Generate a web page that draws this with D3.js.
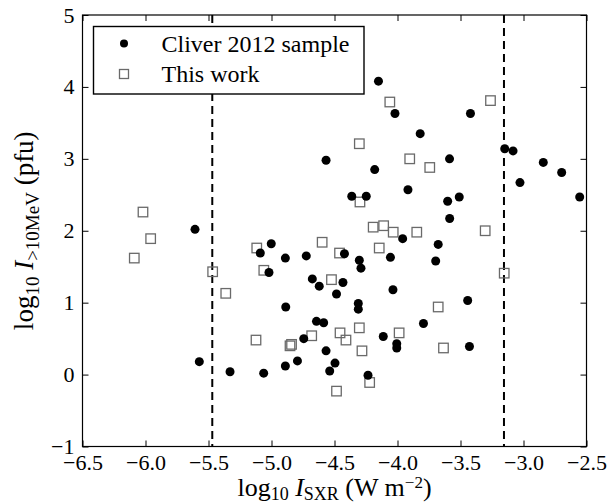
<!DOCTYPE html>
<html>
<head>
<meta charset="utf-8">
<script src="https://cdn.jsdelivr.net/npm/d3@7"></script>
<style>
  html, body { margin: 0; padding: 0; background: #fff; }
  svg { display: block; }
  text { font-family: "Liberation Serif", "DejaVu Serif", serif; fill: #000; }
</style>
</head>
<body>
<svg id="chart" width="609" height="503"></svg>
<script>
// ---- data ----
const cliverX = [-5.607, -5.573, -5.329, -5.062, -5.089, -5.002, -5.02, -4.89, -4.724, -4.887,
  -4.89, -4.794, -4.744, -4.676, -4.621, -4.643, -4.586, -4.567, -4.567, -4.538,
  -4.496, -4.484, -4.433, -4.421, -4.363, -4.248, -4.303, -4.29, -4.311, -4.311,
  -4.234, -4.181, -4.151, -4.113, -4.056, -4.036, -4.02, -4.006, -4.006, -3.959,
  -3.917, -3.82, -3.794, -3.697, -3.677, -3.602, -3.587, -3.586, -3.51, -3.443,
  -3.429, -3.421, -3.149, -3.083, -3.028, -2.843, -2.697, -2.554];
const cliverY = [2.02, 0.18, 0.04, 0.02, 1.69, 1.82, 1.42, 1.62, 1.65, 0.94,
  0.12, 0.19, 0.50, 1.33, 1.23, 0.74, 0.72, 2.98, 0.33, 0.05,
  0.16, 1.12, 1.28, 1.68, 2.48, 2.48, 1.59, 1.48, 0.99, 0.91,
  -0.01, 2.85, 4.08, 0.53, 1.63, 1.18, 3.63, 0.43, 0.37, 1.89,
  2.57, 3.35, 0.71, 1.58, 1.81, 2.41, 3.00, 2.17, 2.47, 1.03,
  0.39, 3.63, 3.14, 3.11, 2.67, 2.95, 2.81, 2.47];

const thisWorkX = [-6.089, -6.02, -5.959, -5.467, -5.363, -5.123, -5.117, -5.061, -4.853, -4.841,
  -4.681, -4.598, -4.524, -4.484, -4.46, -4.456, -4.409, -4.303, -4.303, -4.298,
  -4.282, -4.221, -4.193, -4.145, -4.11, -4.061, -4.034, -3.987, -3.903, -3.847,
  -3.744, -3.677, -3.635, -3.304, -3.262, -3.153];
const thisWorkY = [1.62, 2.26, 1.89, 1.43, 1.13, 0.48, 1.76, 1.45, 0.40, 0.42,
  0.54, 1.84, 1.32, -0.23, 1.69, 0.58, 0.48, 3.21, 0.65, 2.40,
  0.33, -0.11, 2.05, 1.76, 2.07, 3.79, 1.98, 0.58, 3.00, 1.98,
  2.88, 0.94, 0.37, 2.00, 3.81, 1.41];

const thresholds = [-5.47, -3.155];
const xTicks = [-6.5, -6.0, -5.5, -5.0, -4.5, -4.0, -3.5, -3.0, -2.5];
const yTicks = [-1, 0, 1, 2, 3, 4, 5];
const xDomain = [-6.5, -2.5];
const yDomain = [-1, 5];
const seriesNames = ["Cliver 2012 sample", "This work"];

// ---- layout ----
const W = 609, H = 503;
const m = { left: 82.5, top: 15, right: 22.5, bottom: 56.5 };
const iw = W - m.left - m.right, ih = H - m.top - m.bottom;

const svg = d3.select("#chart");
const g = svg.append("g").attr("transform", `translate(${m.left},${m.top})`);

const x = d3.scaleLinear().domain(xDomain).range([0, iw]);
const y = d3.scaleLinear().domain(yDomain).range([ih, 0]);

const minus = s => s.replace("-", "\u2212");
const fmtX = d => minus(d3.format(".1f")(d));
const fmtY = d => minus(d3.format("d")(d));
const tickLen = 6;

// axes
const axB = g.append("g").attr("transform", `translate(0,${ih})`)
  .call(d3.axisBottom(x).tickValues(xTicks).tickFormat(fmtX).tickSize(-tickLen).tickPadding(8));
const axT = g.append("g")
  .call(d3.axisTop(x).tickValues(xTicks).tickFormat("").tickSize(-tickLen));
const axL = g.append("g")
  .call(d3.axisLeft(y).tickValues(yTicks).tickFormat(fmtY).tickSize(-tickLen).tickPadding(8));
const axR = g.append("g").attr("transform", `translate(${iw},0)`)
  .call(d3.axisRight(y).tickValues(yTicks).tickFormat("").tickSize(-tickLen));
[axB, axT, axL, axR].forEach(a => {
  a.select(".domain").remove();
  a.selectAll(".tick line").attr("stroke", "#000").attr("stroke-width", 1);
  a.selectAll(".tick text").style("font-size", "22px").attr("fill", "#000");
});
axB.selectAll(".tick text").attr("dy", "0.72em");

// threshold dashed lines
g.selectAll("line.thr").data(thresholds).enter().append("line")
  .attr("class", "thr")
  .attr("x1", d => x(d)).attr("x2", d => x(d))
  .attr("y1", 0).attr("y2", ih)
  .attr("stroke", "#000").attr("stroke-width", 2)
  .attr("stroke-dasharray", "8,5");

// This work: open squares
const sq = 9.5;
g.selectAll("rect.tw").data(thisWorkX.map((v, i) => [v, thisWorkY[i]])).enter().append("rect")
  .attr("class", "tw")
  .attr("x", d => x(d[0]) - sq / 2).attr("y", d => y(d[1]) - sq / 2)
  .attr("width", sq).attr("height", sq)
  .attr("fill", "none").attr("stroke", "#6a6a6a").attr("stroke-width", 1.3);

// Cliver 2012: filled circles
g.selectAll("circle.cl").data(cliverX.map((v, i) => [v, cliverY[i]])).enter().append("circle")
  .attr("class", "cl")
  .attr("cx", d => x(d[0])).attr("cy", d => y(d[1]))
  .attr("r", 4.5).attr("fill", "#000");

// frame
g.append("rect").attr("x", 0).attr("y", 0).attr("width", iw).attr("height", ih)
  .attr("fill", "none").attr("stroke", "#000").attr("stroke-width", 1.2);

// legend
const lg = svg.append("g").attr("transform", "translate(93.5,26.5)");
lg.append("rect").attr("width", 270.5).attr("height", 67.5)
  .attr("fill", "#fff").attr("stroke", "#000").attr("stroke-width", 1.4);
lg.append("circle").attr("cx", 30.5).attr("cy", 17).attr("r", 4).attr("fill", "#000");
lg.append("rect").attr("x", 30.5 - 4.5).attr("y", 47.5 - 4.5).attr("width", 9).attr("height", 9)
  .attr("fill", "none").attr("stroke", "#6a6a6a").attr("stroke-width", 1.3);
lg.selectAll("text.lt").data(seriesNames).enter().append("text")
  .attr("class", "lt")
  .attr("x", 68).attr("y", (d, i) => 25 + i * 30)
  .style("font-size", "24px").text(d => d);

// x axis label
const xl = svg.append("text")
  .attr("x", m.left + iw / 2).attr("y", 496)
  .attr("text-anchor", "middle").style("font-size", "26px");
xl.append("tspan").text("log");
xl.append("tspan").attr("dy", 4).style("font-size", "18px").text("10");
xl.append("tspan").attr("dy", -4).text("\u00a0");
xl.append("tspan").style("font-style", "italic").text("I");
xl.append("tspan").attr("dy", 4).style("font-size", "18px").text("SXR");
xl.append("tspan").attr("dy", -4).text(" (W m");
xl.append("tspan").attr("dy", -8).style("font-size", "17px").text("\u22122");
xl.append("tspan").attr("dy", 8).text(")");

// y axis label
const yl = svg.append("text")
  .attr("transform", `translate(33,${m.top + ih / 2}) rotate(-90)`)
  .attr("text-anchor", "middle").style("font-size", "27px");
yl.append("tspan").text("log");
yl.append("tspan").attr("dy", 6).style("font-size", "19px").text("10");
yl.append("tspan").attr("dy", -6).text("\u00a0");
yl.append("tspan").style("font-style", "italic").text("I");
yl.append("tspan").attr("dy", 6).style("font-size", "19px").text(">10MeV");
yl.append("tspan").attr("dy", -6).text(" (pfu)");
</script>
</body>
</html>
